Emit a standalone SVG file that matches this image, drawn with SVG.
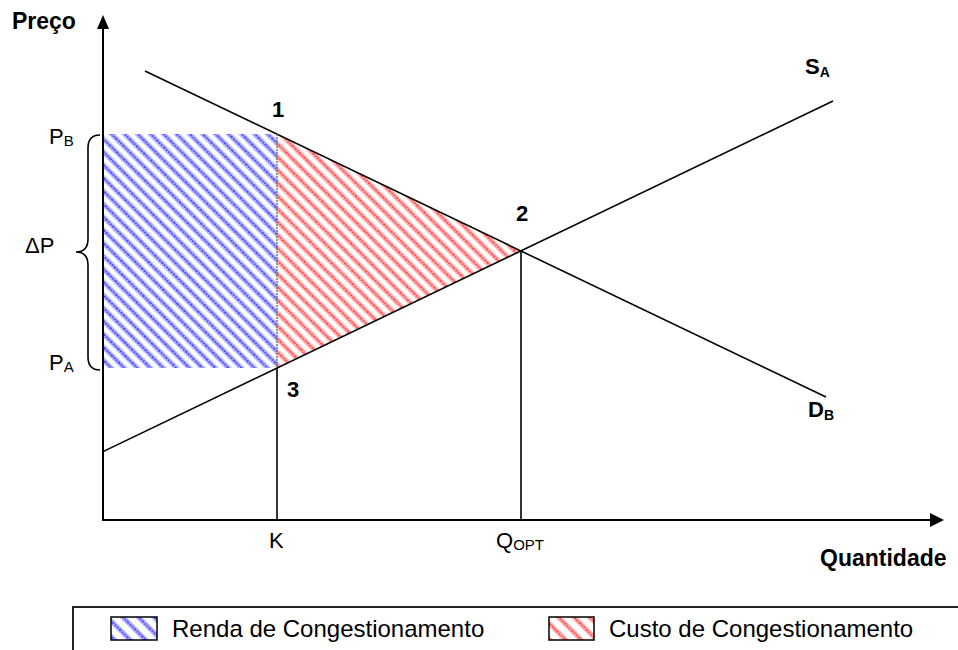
<svg xmlns="http://www.w3.org/2000/svg" width="958" height="650" viewBox="0 0 958 650">
<style>
text{font-family:"Liberation Sans",Arial,sans-serif;fill:#000}
.lbl{font-size:22px}
.sub{font-size:15px}
.b{font-weight:bold}
.ax{stroke:#000;stroke-width:2;fill:none}
.ln{stroke:#000;stroke-width:1.6;fill:none}
.leg{font-size:24px}
</style>
<defs>
<pattern id="hb" patternUnits="userSpaceOnUse" width="9.2" height="10" patternTransform="rotate(-45)">
<rect x="0" y="0" width="5" height="10" fill="#b4b4ff"/>
<line x1="2.5" y1="0" x2="2.5" y2="10" stroke="#3c3cff" stroke-width="1.6" stroke-dasharray="2,1"/>
</pattern>
<pattern id="hr" patternUnits="userSpaceOnUse" width="9.2" height="10" patternTransform="rotate(-45)">
<rect x="0" y="0" width="5" height="10" fill="#ffb4b4"/>
<line x1="2.5" y1="0" x2="2.5" y2="10" stroke="#ff3c3c" stroke-width="1.6" stroke-dasharray="2,1"/>
</pattern>
<pattern id="hbL" patternUnits="userSpaceOnUse" width="11" height="10" patternTransform="rotate(-45)">
<rect x="0" y="0" width="5" height="10" fill="#b4b4ff"/>
<line x1="2.5" y1="0" x2="2.5" y2="10" stroke="#3c3cff" stroke-width="1.6" stroke-dasharray="2,1"/>
</pattern>
<pattern id="hrL" patternUnits="userSpaceOnUse" width="11" height="10" patternTransform="rotate(-45)">
<rect x="0" y="0" width="5" height="10" fill="#ffb4b4"/>
<line x1="2.5" y1="0" x2="2.5" y2="10" stroke="#ff3c3c" stroke-width="1.6" stroke-dasharray="2,1"/>
</pattern>
</defs>
<rect width="958" height="650" fill="#fff"/>

<g id="areas">
<rect id="renda" x="104" y="134" width="173" height="234" fill="url(#hb)"/>
<polygon id="custo" points="277,134 521,251 277,368" fill="url(#hr)"/>
</g>

<g id="connectors">
<line class="ax" x1="103" y1="521" x2="103" y2="28"/>
<polygon points="103,15 97,29 109,29" fill="#000"/>
<line class="ax" x1="102" y1="520" x2="931" y2="520"/>
<polygon points="944,520 930,513 930,527" fill="#000"/>
<line class="ln" x1="145" y1="71" x2="826" y2="397"/>
<line class="ln" x1="103" y1="451.6" x2="833" y2="101"/>
<line x1="277" y1="134" x2="277" y2="368" stroke="#777" stroke-width="1.5" stroke-dasharray="2,1"/>
<line class="ln" x1="277" y1="368" x2="277" y2="520"/>
<line class="ln" x1="521" y1="251" x2="521" y2="520"/>
<path class="ln" d="M100,135 Q88,135 88,148 L88,239 Q88,252 76,252 Q88,252 88,265 L88,357 Q88,370 100,370"/>
</g>

<g id="labels">
<text class="lbl b" x="12" y="29" style="font-size:23px">Preço</text>
<text class="lbl b" x="820" y="566" style="font-size:23px">Quantidade</text>
<text class="lbl" x="49" y="144">P<tspan class="sub" dy="2">B</tspan></text>
<text class="lbl" x="25" y="253">ΔP</text>
<text class="lbl" x="49" y="370">P<tspan class="sub" dy="2">A</tspan></text>
<text class="lbl" x="269" y="548">K</text>
<text class="lbl" x="496" y="548">Q<tspan class="sub" dy="2">OPT</tspan></text>
<text class="lbl b" x="278" y="117" text-anchor="middle">1</text>
<text class="lbl b" x="522" y="221" text-anchor="middle">2</text>
<text class="lbl b" x="293" y="397" text-anchor="middle">3</text>
<text class="lbl b" x="805" y="74">S<tspan class="b" style="font-size:14px" dy="3">A</tspan></text>
<text class="lbl b" x="808" y="417">D<tspan class="b" style="font-size:14px" dy="3">B</tspan></text>
</g>

<g id="legend">
<path d="M958,607 L73,607 L73,652" stroke="#222" stroke-width="2" fill="none"/>
<rect x="111" y="617" width="46" height="23" fill="url(#hbL)" stroke="#000" stroke-width="1.5"/>
<text class="leg" x="172" y="637">Renda de Congestionamento</text>
<rect x="549" y="617" width="45" height="23" fill="url(#hrL)" stroke="#000" stroke-width="1.5"/>
<text class="leg" x="609" y="637">Custo de Congestionamento</text>
</g>
</svg>
